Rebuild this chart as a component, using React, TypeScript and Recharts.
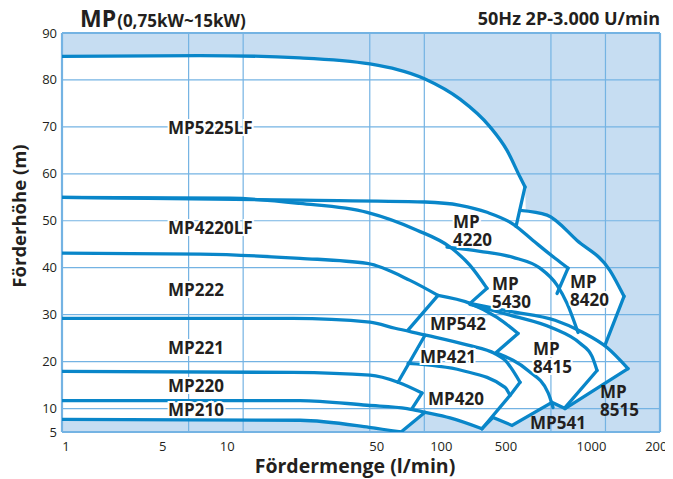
import React from 'react';
import { ComposedChart, XAxis, YAxis, CartesianGrid, Area, Line, Scatter, ReferenceLine } from 'recharts';

// ---------- axes ----------
const X_TICKS = [1, 5, 10, 50, 100, 500, 1000, 2000];
const Y_TICKS = [5, 10, 20, 30, 40, 50, 60, 70, 80, 90];
const X_GRID = [5, 10, 50, 100, 500, 1000];
const Y_GRID = [10, 20, 30, 40, 50, 60, 70, 80];

type P = { q: number; h: number };
const pts = (arr: number[][]): P[] => arr.map(([q, h]) => ({ q, h }));

// ---------- pump curves (q in l/min, h in m): smooth head curves ----------
const S_MP5225LF = pts([[1, 85], [5.78, 85.2], [20.6, 84.7], [50.1, 83.4], [100.9, 80.2], [157.4, 75.9], [230.6, 70.0], [286.1, 65.0], [337.6, 59.3], [359.6, 57.2]]);
const S_MP4220 = pts([[1, 55], [20.6, 54.4], [100.9, 54.0], [157.4, 53.3], [221.9, 51.8], [308.9, 49.3], [398.1, 45.8], [526.7, 42.0], [621.4, 39.9]]);
const S_MP5430 = pts([[1, 55], [8.46, 54.8], [20.6, 53.7], [48.3, 51.8], [91.1, 48.0], [138.7, 44.4], [178.8, 40.5], [221.9, 35.6]]);
const S_MP4220_MIN = pts([[133.5, 44.4], [203, 43.5], [308.9, 42.2], [435.3, 39.9], [540.2, 36.3], [613.5, 32.4], [705.6, 26.2]]);
const S_MP8420 = pts([[337.6, 52.2], [475.8, 51.2], [696.6, 45.8], [1059.5, 39.4], [1266, 33.9]]);
const S_MP222 = pts([[1, 43.1], [5.78, 42.9], [20.6, 42.0], [48.3, 40.9], [83.4, 37.3], [119, 34.1]]);
const S_MP542 = pts([[119, 34.1], [178.8, 32.4], [252, 29.4], [329.1, 26.0]]);
const S_MP8515 = pts([[178.8, 32.4], [297.3, 30.7], [526.7, 28.8], [751.9, 26.2], [1020, 23.0], [1332, 18.5]]);
const S_MP8415 = pts([[178.8, 32.2], [297.3, 29.9], [513.5, 27.1], [723.7, 23.9], [843, 21.1], [898.4, 18.1]]);
const S_MP221 = pts([[1, 29.2], [18.85, 29.2], [50.1, 28.4], [68.9, 27.1], [103.5, 25.6], [174.3, 23.5], [245.7, 21.7], [279, 20.3], [337.6, 15.6]]);
const S_MP421_MIN = pts([[81.3, 19.6], [161.5, 18.1], [279, 14.5], [297.3, 12.8]]);
const S_MP541_TOP = pts([[255.2, 21.7], [373.5, 18.1], [481.9, 13.4], [513.5, 10.2]]);
const S_MP220 = pts([[1, 17.9], [18.85, 17.7], [50.1, 17.1], [71.6, 15.6], [97.1, 13.3]]);
const S_MP210 = pts([[1, 11.7], [20.6, 11.7], [48.3, 10.7], [80.3, 10.0], [100.9, 9.2], [138.7, 8.0], [208.2, 5.7]]);
const S_BASE = pts([[1, 7.7], [20.6, 7.5], [49.5, 6.0], [74.4, 5.0]]);

// ---------- straight end lines of the operating ranges ----------
const E_MP5225LF = pts([[359.6, 57.2], [320.9, 48.8]]);
const E_MP4220 = pts([[621.4, 39.9], [540.2, 34.5]]);
const E_MP5430 = pts([[221.9, 35.6], [178.8, 32.4]]);
const E_MP8420 = pts([[1266, 33.9], [994.3, 23.5]]);
const E_MP222 = pts([[119, 34.1], [81.3, 26.7]]);
const E_MP542 = pts([[329.1, 26.0], [245.7, 21.7]]);
const E_MP8515 = pts([[1332, 18.5], [598.1, 10.0]]);
const E_MP8415 = pts([[898.4, 18.1], [598.1, 10.2]]);
const E_MP421 = pts([[337.6, 15.6], [297.3, 12.8], [208.2, 5.7]]);
const E_MP221 = pts([[100.9, 25.6], [71.6, 15.6]]);
const E_MP220 = pts([[97.1, 13.3], [85.5, 10.0]]);
const E_BASE = pts([[74.4, 5.0], [100.9, 9.2]]);
const E_MP541 = pts([[208.2, 5.7], [239.5, 8.1], [304.9, 6.4], [507.1, 11.3], [598.1, 10.0]]);

const SMOOTH = [S_MP5225LF, S_MP4220, S_MP5430, S_MP4220_MIN, S_MP8420, S_MP222, S_MP542, S_MP8515, S_MP8415, S_MP221, S_MP421_MIN, S_MP541_TOP, S_MP220, S_MP210, S_BASE];
const ENDS = [E_MP5225LF, E_MP4220, E_MP5430, E_MP8420, E_MP222, E_MP542, E_MP8515, E_MP8415, E_MP421, E_MP221, E_MP220, E_BASE, E_MP541];

// ---------- operating envelope (white area) ----------
type B = { q: number; band: [number, number] };
// upper half: from 20 m up to the outer head curves
const ENV_UPPER: B[] = [
  { q: 1, band: [20, 85] },
  { q: 5.78, band: [20, 85.2] },
  { q: 20.6, band: [20, 84.7] },
  { q: 50.1, band: [20, 83.4] },
  { q: 100.9, band: [20, 80.2] },
  { q: 157.4, band: [20, 75.9] },
  { q: 230.6, band: [20, 70.0] },
  { q: 286.1, band: [20, 65.0] },
  { q: 337.6, band: [20, 59.3] },
  { q: 359.6, band: [20, 57.2] },
  { q: 364.2, band: [20, 52.0] },
  { q: 475.8, band: [20, 51.2] },
  { q: 696.6, band: [20, 45.8] },
  { q: 994.3, band: [20, 40.5] },
];
// lower half: from the lowest curves up to 25 m
const ENV_LOWER: B[] = [
  { q: 1, band: [7.7, 25] },
  { q: 20.6, band: [7.5, 25] },
  { q: 49.5, band: [6.0, 25] },
  { q: 74.4, band: [5.0, 25] },
  { q: 100.9, band: [9.2, 25] },
  { q: 138.7, band: [8.0, 25] },
  { q: 208.2, band: [5.7, 25] },
  { q: 239.5, band: [8.1, 25] },
  { q: 304.9, band: [6.4, 25] },
  { q: 507.1, band: [11.3, 25] },
  { q: 598.1, band: [10.0, 25] },
  { q: 994.3, band: [15.4, 25] },
];
const ENV_8420: B[] = [
  { q: 994.3, band: [23.5, 40.5] },
  { q: 1059.5, band: [26.2, 39.4] },
  { q: 1266, band: [33.9, 33.9] },
];
const ENV_8515: B[] = [
  { q: 994.3, band: [15.4, 23.5] },
  { q: 1020, band: [15.6, 23.0] },
  { q: 1332, band: [18.5, 18.5] },
];
const ENVS: { data: B[]; smooth: boolean }[] = [
  { data: ENV_UPPER, smooth: true },
  { data: ENV_LOWER, smooth: false },
  { data: ENV_8420, smooth: false },
  { data: ENV_8515, smooth: false },
];

// ---------- region labels ----------
const LABELS = [
  { q: 3.85, h: 69.7, lines: ['MP5225LF'] },
  { q: 3.85, h: 48.4, lines: ['MP4220LF'] },
  { q: 3.85, h: 35.2, lines: ['MP222'] },
  { q: 3.85, h: 23.0, lines: ['MP221'] },
  { q: 3.85, h: 14.9, lines: ['MP220'] },
  { q: 3.85, h: 9.6, lines: ['MP210'] },
  { q: 144, h: 47.8, lines: ['MP', '4220'] },
  { q: 236.5, h: 34.7, lines: ['MP', '5430'] },
  { q: 637.4, h: 35.1, lines: ['MP', '8420'] },
  { q: 107.5, h: 28.1, lines: ['MP542'] },
  { q: 94.7, h: 20.9, lines: ['MP421'] },
  { q: 398.1, h: 20.8, lines: ['MP', '8415'] },
  { q: 104.8, h: 12.1, lines: ['MP420'] },
  { q: 933, h: 11.5, lines: ['MP', '8515'] },
  { q: 383.2, h: 7.0, lines: ['MP541'] },
];
const NO_HALO = new Set(['8515', 'MP541']);

// ---------- styles ----------
const FONT = '"Open Sans", "Noto Sans", sans-serif';
const BG = '#c6ddf2';
const GRID = '#74b3e3';
const CURVE = '#0986c9';
const TEXT = '#231f20';
const X_LABEL_SHIFT: Record<number, number> = { 1: 4, 5: -26, 10: -16, 50: 7, 100: 17, 500: -45, 1000: -14, 2000: 0 };

const XTick = (props: any) => {
  const { x, y, payload } = props;
  return (
    <text x={x + (X_LABEL_SHIFT[payload.value] || 0)} y={y + 19} textAnchor="middle" fontSize={13} fontFamily={FONT} fill={TEXT}>
      {payload.value}
    </text>
  );
};
const YTick = (props: any) => {
  const { x, y, payload } = props;
  return (
    <text x={x - 5} y={y + 4.5} textAnchor="end" fontSize={13} fontFamily={FONT} fill={TEXT}>
      {payload.value}
    </text>
  );
};

const renderLabel = (props: any) => {
  const { cx, cy, payload } = props;
  const lines: string[] = payload.lines;
  const lh = 18;
  const y0 = cy - ((lines.length - 1) * lh) / 2 + 6;
  const halo = !NO_HALO.has(lines[lines.length - 1]);
  return (
    <text
      x={cx}
      y={y0}
      fontSize={17}
      fontWeight={700}
      fontFamily={FONT}
      fill={TEXT}
      stroke={halo ? '#ffffff' : 'none'}
      strokeWidth={halo ? 4 : 0}
      paintOrder="stroke"
    >
      {lines.map((l, i) => (
        <tspan key={i} x={cx} y={y0 + i * lh}>
          {l}
        </tspan>
      ))}
    </text>
  );
};

export default function App() {
  return (
    <div style={{ position: 'relative', width: 665, height: 471 }}>
      <ComposedChart width={665} height={471} margin={{ top: 25, right: 13, left: 0, bottom: 17 }}>
        <CartesianGrid horizontal={false} vertical={false} fill={BG} fillOpacity={1} stroke="none" />
        <XAxis
          dataKey="q"
          type="number"
          scale="log"
          domain={[1, 2000]}
          ticks={X_TICKS}
          interval={0}
          allowDataOverflow
          axisLine={false}
          tickLine={false}
          tickSize={0}
          tickMargin={0}
          height={30}
          tick={XTick}
        />
        <YAxis
          type="number"
          domain={[5, 90]}
          ticks={Y_TICKS}
          interval={0}
          allowDataOverflow
          axisLine={false}
          tickLine={false}
          tickSize={0}
          tickMargin={0}
          width={54}
          tick={YTick}
        />
        {ENVS.map((env, i) => (
          <Area
            key={'env' + i}
            data={env.data}
            dataKey="band"
            type={env.smooth ? 'monotoneX' : 'linear'}
            stroke="none"
            fill="#ffffff"
            fillOpacity={1}
            isAnimationActive={false}
            activeDot={false}
          />
        ))}
        {X_GRID.map((v) => (
          <ReferenceLine key={'gx' + v} x={v} stroke={GRID} strokeWidth={1.2} />
        ))}
        {Y_GRID.map((v) => (
          <ReferenceLine key={'gy' + v} y={v} stroke={GRID} strokeWidth={1.2} />
        ))}
        <ReferenceLine x={1} stroke={GRID} strokeWidth={2.2} />
        <ReferenceLine x={2000} stroke={GRID} strokeWidth={2.2} />
        <ReferenceLine y={5} stroke={GRID} strokeWidth={2.2} />
        <ReferenceLine y={90} stroke={GRID} strokeWidth={2.2} />
        {SMOOTH.map((c, i) => (
          <Line
            key={'s' + i}
            data={c}
            dataKey="h"
            type="monotoneX"
            stroke={CURVE}
            strokeWidth={3.3}
            strokeLinecap="round"
            dot={false}
            activeDot={false}
            isAnimationActive={false}
          />
        ))}
        {ENDS.map((c, i) => (
          <Line
            key={'e' + i}
            data={c}
            dataKey="h"
            type="linear"
            stroke={CURVE}
            strokeWidth={3.3}
            strokeLinecap="round"
            dot={false}
            activeDot={false}
            isAnimationActive={false}
          />
        ))}
        <Scatter data={LABELS} dataKey="h" shape={renderLabel} isAnimationActive={false} />
      </ComposedChart>
      <svg width={665} height={471} style={{ position: 'absolute', left: 0, top: 0, pointerEvents: 'none', overflow: 'visible' }}>
        <text x={72} y={19} fontFamily={FONT} fontWeight={700} fill={TEXT}>
          <tspan fontSize={23}>MP</tspan>
          <tspan fontSize={17} dx={1}>(0,75kW~15kW)</tspan>
        </text>
        <text x={652} y={17} textAnchor="end" fontFamily={FONT} fontWeight={700} fontSize={18} fill={TEXT}>
          50Hz 2P-3.000 U/min
        </text>
        <text x={347} y={465} textAnchor="middle" fontFamily={FONT} fontWeight={700} fontSize={19.5} fill={TEXT}>
          Fördermenge (l/min)
        </text>
        <text x={18} y={208} textAnchor="middle" fontFamily={FONT} fontWeight={700} fontSize={18.5} fill={TEXT} transform="rotate(-90 18 208)">
          Förderhöhe (m)
        </text>
      </svg>
    </div>
  );
}
